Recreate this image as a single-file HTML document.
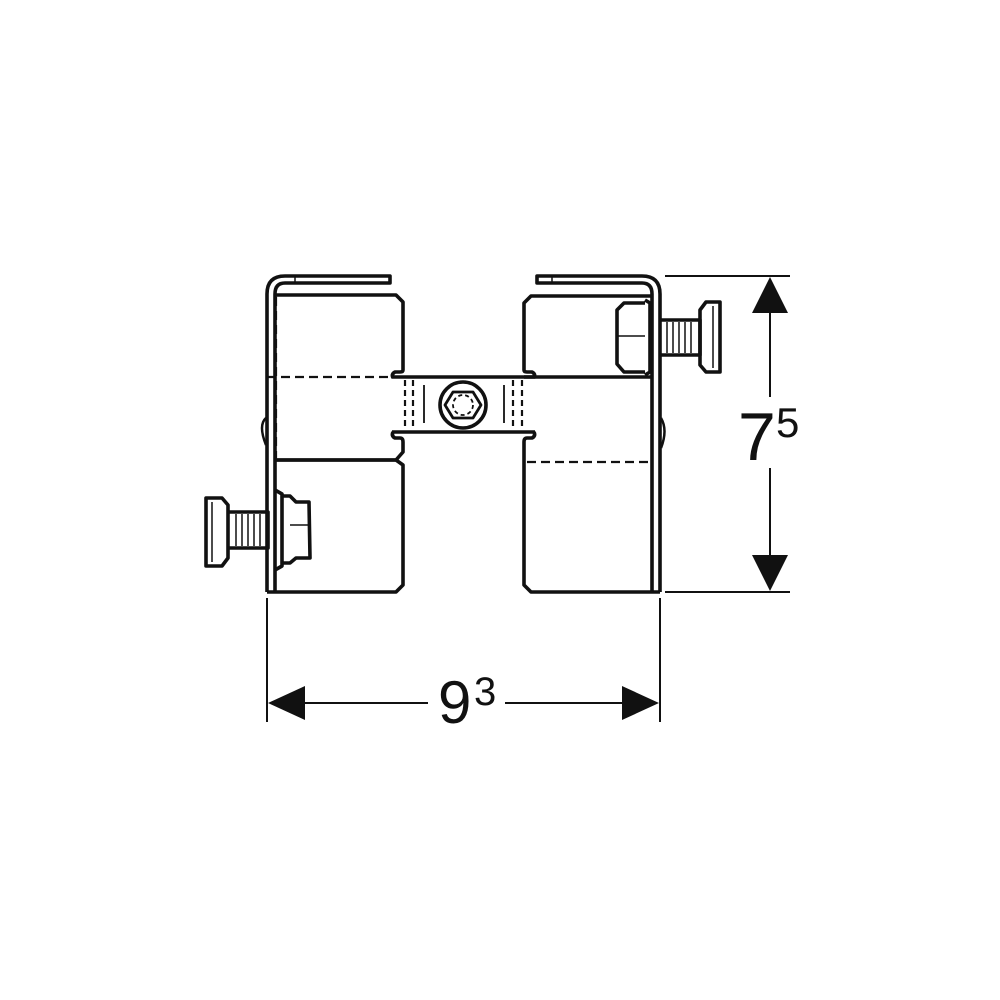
<!DOCTYPE html>
<html><head><meta charset="utf-8"><style>html,body{margin:0;padding:0;background:#fff}svg{display:block}</style></head>
<body>
<svg width="1000" height="1000" viewBox="0 0 1000 1000" xmlns="http://www.w3.org/2000/svg">
<g fill="none" stroke="#111" stroke-width="3.6" stroke-linejoin="round">
<!-- LEFT BRACKET -->
<path d="M267 592 L267 294 Q267 276 285 276 L390 276 L390 283 L285 283 Q275 283 275 294 L275 592"/>
<line x1="295" y1="276" x2="295" y2="283" stroke-width="1.5"/>
<path d="M275 295 L396 295 L403 302 L403 370 Q403 372 400 372 L395 372 Q391 374 393 378"/>
<path d="M393 432 Q391 436 395 438 L400 438 Q403 438 403 442 L403 452 L396 460 L275 460"/>
<path d="M275 460 L396 460 L403 465 L403 585 L396 592 L267 592"/>
<path d="M267 377 L392 377" stroke-dasharray="9 5" stroke-width="2.2"/>
<path d="M276 297 L276 460" stroke-dasharray="9 5" stroke-width="2.2"/>
<path d="M266 418 Q258 425 266 445" stroke-width="2.5"/>
<!-- left bolt -->
<path d="M206 498 L222 498 L228 505 L228 558 L222 566 L206 566 Z"/>
<line x1="212" y1="502" x2="212" y2="562" stroke-width="1.5"/>
<path d="M228 512 L268 512 L268 548 L228 548" />
<g stroke-width="1.5"><line x1="236" y1="514" x2="236" y2="546"/><line x1="242" y1="514" x2="242" y2="546"/><line x1="248" y1="514" x2="248" y2="546"/><line x1="254" y1="514" x2="254" y2="546"/><line x1="260" y1="514" x2="260" y2="546"/></g>
<path d="M275 490 L282 494 L282 566 L275 570"/>
<path d="M282 496 L290 496 L296 502 L309 502 L310 558 L296 558 L290 563 L282 563"/>
<line x1="290" y1="525" x2="309" y2="525" stroke-width="1.5"/>
<!-- STRIP -->
<path d="M392 377 L535 377"/>
<path d="M392 432 L535 432"/>
<g stroke-width="2.2" stroke-dasharray="6 4"><line x1="405" y1="380" x2="405" y2="430"/><line x1="413" y1="380" x2="413" y2="430"/><line x1="513" y1="380" x2="513" y2="430"/><line x1="522" y1="380" x2="522" y2="430"/></g>
<line x1="424" y1="385" x2="424" y2="423" stroke-width="1.8"/>
<line x1="504" y1="385" x2="504" y2="423" stroke-width="1.8"/>
<circle cx="463" cy="405" r="23"/>
<polygon points="453,392 473,392 481,405 473,418 453,418 445,405" stroke-width="2.8"/>
<circle cx="463" cy="405" r="10" stroke-dasharray="4 3" stroke-width="1.8"/>
<!-- RIGHT BRACKET -->
<path d="M660 592 L660 294 Q660 276 642 276 L537 276 L537 283 L642 283 Q652 283 652 294 L652 592"/>
<line x1="552" y1="276" x2="552" y2="283" stroke-width="1.5"/>
<path d="M652 296 L531 296 L524 303 L524 370 Q524 372 527 372 L532 372 Q536 374 534 378"/>
<path d="M534 432 Q536 436 532 438 L527 438 Q524 438 524 442 L524 585 L531 592 L660 592"/>
<path d="M527 462 L652 462" stroke-dasharray="9 5" stroke-width="2.2"/>
<path d="M652 378 L652 592" stroke-dasharray="9 5" stroke-width="2.2"/>
<path d="M652 377 L524 377"/>
<path d="M661 418 Q668 430 661 448" stroke-width="2.5"/>
<!-- right bolt -->
<path d="M645 303 L624 303 L617 310 L617 364 L624 372 L645 372"/>
<line x1="617" y1="336" x2="645" y2="336" stroke-width="1.5"/>
<path d="M645 300 L650 303 L650 372 L645 375"/>
<path d="M660 320 L700 320 L700 355 L660 355"/>
<g stroke-width="1.5"><line x1="667" y1="322" x2="667" y2="353"/><line x1="673" y1="322" x2="673" y2="353"/><line x1="679" y1="322" x2="679" y2="353"/><line x1="685" y1="322" x2="685" y2="353"/><line x1="691" y1="322" x2="691" y2="353"/></g>
<path d="M700 310 L706 302 L720 302 L720 372 L706 372 L700 365 Z"/>
<line x1="713" y1="306" x2="713" y2="368" stroke-width="1.5"/>
</g>
<!-- DIMENSIONS -->
<g stroke="#111" stroke-width="2" fill="none">
<line x1="665" y1="276" x2="790" y2="276"/>
<line x1="665" y1="592" x2="790" y2="592"/>
<line x1="770" y1="310" x2="770" y2="397"/>
<line x1="770" y1="468" x2="770" y2="558"/>
<line x1="267" y1="598" x2="267" y2="722"/>
<line x1="660" y1="598" x2="660" y2="722"/>
<line x1="300" y1="703" x2="428" y2="703"/>
<line x1="505" y1="703" x2="628" y2="703"/>
</g>
<g fill="#111">
<polygon points="770,277 752,313 788,313"/>
<polygon points="770,591 752,555 788,555"/>
<polygon points="268,703 305,686 305,720"/>
<polygon points="659,703 622,686 622,720"/>
</g>
<g font-family="Liberation Sans, sans-serif" fill="#111">
<text x="738" y="460" font-size="68">7</text>
<text x="776" y="437" font-size="42">5</text>
<text x="438" y="723" font-size="60">9</text>
<text x="474" y="705" font-size="40">3</text>
</g>
</svg>
</body></html>
